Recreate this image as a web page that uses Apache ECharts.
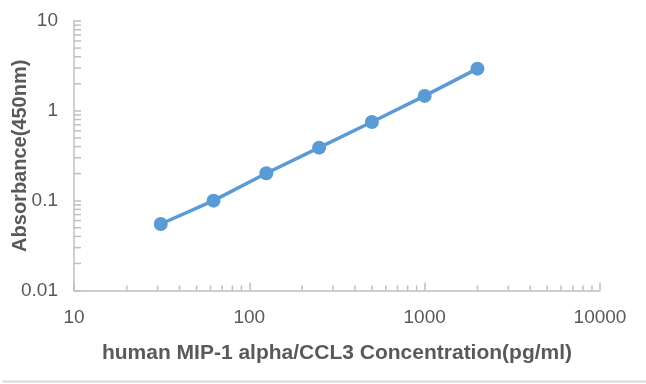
<!DOCTYPE html>
<html>
<head>
<meta charset="utf-8">
<script src="https://cdn.jsdelivr.net/npm/echarts@6/dist/echarts.min.js"></script>
<style>html,body{margin:0;padding:0;background:#fff;}#c{width:646px;height:384px;}</style>
</head>
<body>
<div id="c"></div>
<script>
const concentrations = [31.25, 62.5, 125, 250, 500, 1000, 2000];
const absorbance = [0.055, 0.1, 0.202, 0.389, 0.752, 1.466, 2.95];
const xTickLabels = ['10', '100', '1000', '10000'];
const yTickLabels = ['0.01', '0.1', '1', '10'];
const xMinorTicks = [20,30,40,50,60,70,80,90,200,300,400,500,600,700,800,900,2000,3000,4000,5000,6000,7000,8000,9000];
const yMinorTicks = [0.02,0.03,0.04,0.05,0.06,0.07,0.08,0.09,0.2,0.3,0.4,0.5,0.6,0.7,0.8,0.9,2,3,4,5,6,7,8,9];
const xTitle = 'human MIP-1 alpha/CCL3 Concentration(pg/ml)';
const yTitle = 'Absorbance(450nm)';

const axisColor = '#BFBFBF';
const labelColor = '#595959';
const fontFam = '"Liberation Sans", Arial, sans-serif';

function fmt(labels) {
  return function (v) {
    const e = Math.round(Math.log10(v));
    const s = labels.find(l => Math.abs(Math.log10(parseFloat(l)) - e) < 1e-6);
    return s !== undefined ? s : '';
  };
}

const chart = echarts.init(document.getElementById('c'), null, {renderer: 'canvas'});
chart.setOption({
  animation: false,
  backgroundColor: '#fff',
  grid: {left: 74, right: 46, top: 21, bottom: 93.5, containLabel: false, outerBoundsMode: 'none'},
  xAxis: {
    type: 'log', logBase: 10, min: 10, max: 10000,
    name: xTitle, nameLocation: 'middle', nameGap: 52, nameMoveOverlap: false,
    nameTextStyle: {color: labelColor, fontSize: 21, fontWeight: 'bold', fontFamily: fontFam},
    axisLine: {lineStyle: {color: axisColor, width: 1.5}},
    axisTick: {inside: true, length: 8, lineStyle: {color: axisColor, width: 1.5}},
    axisLabel: {color: labelColor, fontSize: 19, fontFamily: fontFam, margin: 18, formatter: fmt(xTickLabels)},
    splitLine: {show: false}
  },
  yAxis: {
    type: 'log', logBase: 10, min: 0.01, max: 10,
    name: yTitle, nameLocation: 'middle', nameGap: 44, nameMoveOverlap: false,
    nameTextStyle: {color: labelColor, fontSize: 20, fontWeight: 'bold', fontFamily: fontFam},
    axisLine: {show: true, lineStyle: {color: axisColor, width: 1.5}},
    axisTick: {show: true, inside: true, length: 7, lineStyle: {color: axisColor, width: 1.5}},
    axisLabel: {color: labelColor, fontSize: 19, fontFamily: fontFam, margin: 16, formatter: fmt(yTickLabels)},
    splitLine: {show: false}
  },
  graphic: [{
    type: 'line', left: 0, bottom: 0,
    shape: {x1: 0, y1: 0, x2: 646, y2: 0},
    style: {stroke: '#D9D9D9', lineWidth: 2}
  }],
  series: [
    {
      type: 'custom', silent: true, clip: false, z: 1,
      data: xMinorTicks.map(v => [v, 0.01]),
      renderItem: function (params, api) {
        const p = api.coord([api.value(0), api.value(1)]);
        return {type: 'line', shape: {x1: p[0], y1: p[1], x2: p[0], y2: p[1] - 5},
          style: {stroke: axisColor, lineWidth: 1.5}};
      }
    },
    {
      type: 'custom', silent: true, clip: false, z: 1,
      data: yMinorTicks.map(v => [10, v]),
      renderItem: function (params, api) {
        const p = api.coord([api.value(0), api.value(1)]);
        return {type: 'line', shape: {x1: p[0], y1: p[1], x2: p[0] + 7, y2: p[1]},
          style: {stroke: axisColor, lineWidth: 1.5}};
      }
    },
    {
      type: 'line', z: 3,
      data: concentrations.map((c, i) => [c, absorbance[i]]),
      symbol: 'circle', symbolSize: 14,
      lineStyle: {color: '#5B9BD5', width: 3.5},
      itemStyle: {color: '#5B9BD5'}
    }
  ]
});
</script>
</body>
</html>
